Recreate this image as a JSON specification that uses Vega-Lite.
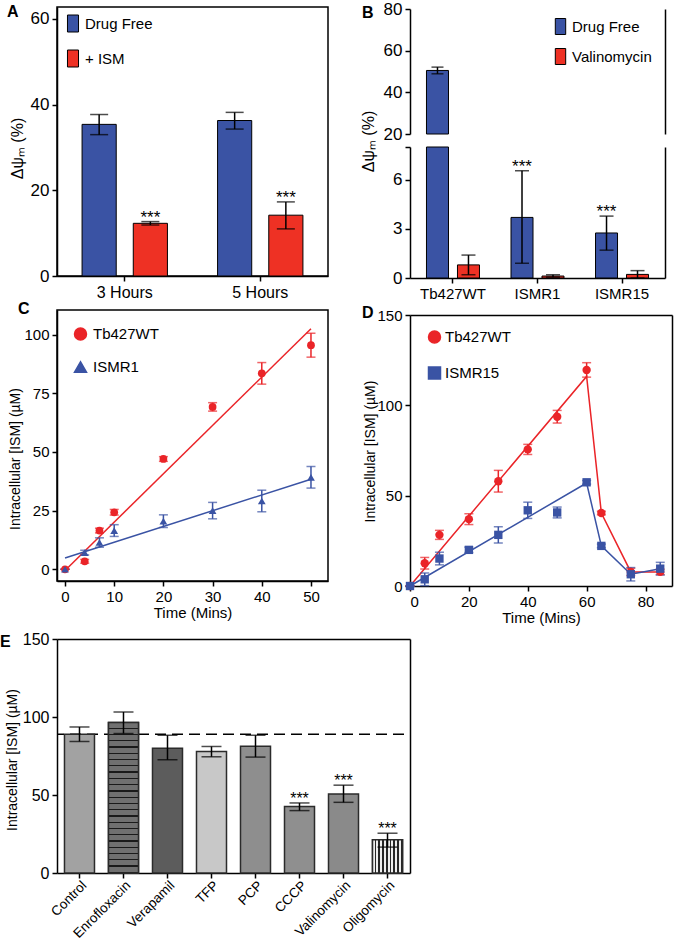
{
"$schema": "https://vega.github.io/schema/vega-lite/v6.json",
"background": "white",
"padding": {"left": 0, "top": 0, "right": 5, "bottom": 5},
"config": {
  "font": "Liberation Sans",
  "view": {"stroke": "black", "strokeWidth": 1.5},
  "axis": {"domainColor": "black", "domainWidth": 1.5, "tickColor": "black", "tickWidth": 1.5, "tickSize": 5, "labelColor": "black", "titleColor": "black", "labelFont": "Liberation Sans", "titleFont": "Liberation Sans", "grid": false, "labelFontSize": 15, "titleFontSize": 15, "titleFontWeight": "normal", "labelPadding": 3},
  "legend": {"labelFont": "Liberation Sans", "labelColor": "black", "padding": 0},
  "title": {"anchor": "start", "frame": "group", "offset": 0, "baseline": "alphabetic", "fontSize": 16, "fontWeight": "bold", "font": "Liberation Sans", "color": "black"}
},
"columns": 2,
"spacing": {"row": 32, "column": -4},
"bounds": "flush",
"align": "each",
"resolve": {"scale": {"color": "independent", "fill": "independent", "shape": "independent", "xOffset": "independent"}, "legend": {"color": "independent", "fill": "independent", "shape": "independent"}},
"concat": [
{
  "width": 271, "height": 269,
  "title": {"text": "A", "dx": -50, "dy": 17},
  "data": {"values": [
    {"time": "3 Hours", "treatment": "Drug Free", "value": 35.4, "lo": 33.0, "hi": 37.7},
    {"time": "3 Hours", "treatment": "+ ISM", "value": 12.3, "lo": 11.9, "hi": 12.7, "sig": "***"},
    {"time": "5 Hours", "treatment": "Drug Free", "value": 36.3, "lo": 34.3, "hi": 38.2},
    {"time": "5 Hours", "treatment": "+ ISM", "value": 14.2, "lo": 11.0, "hi": 17.3, "sig": "***"}
  ]},
  "encoding": {
    "x": {"field": "time", "type": "nominal", "sort": ["3 Hours", "5 Hours"], "title": null, "scale": {"paddingInner": 0.37, "paddingOuter": 0.185}, "axis": {"labelAngle": 0, "labelFontSize": 16}},
    "xOffset": {"field": "treatment", "type": "nominal", "sort": ["Drug Free", "+ ISM"], "scale": {"paddingInner": 0.333, "paddingOuter": 0}}
  },
  "layer": [
    {"mark": {"type": "bar", "stroke": "black", "strokeWidth": 1},
     "encoding": {
       "y": {"field": "value", "type": "quantitative", "title": "Δψₘ (%)", "scale": {"domain": [0, 62.8], "nice": false}, "axis": {"values": [0, 20, 40, 60], "labelFontSize": 17, "titleFontSize": 16, "titleX": -40, "titleY": 141, "titleAngle": -90, "titleAlign": "center", "titleBaseline": "middle"}},
       "color": {"field": "treatment", "type": "nominal", "scale": {"domain": ["Drug Free", "+ ISM"], "range": ["#3a53a4", "#ee3124"]},
         "legend": {"title": null, "orient": "none", "legendX": 7, "legendY": 7.5, "symbolType": "M-0.65,-1H0.65V1H-0.65Z", "symbolSize": 289, "symbolStrokeColor": "black", "symbolStrokeWidth": 1, "symbolOpacity": 1, "labelFontSize": 15, "labelOffset": 3, "rowPadding": 13}}
     }},
    {"mark": {"type": "rule", "color": "black", "strokeWidth": 1.5},
     "encoding": {"y": {"field": "lo", "type": "quantitative", "title": "Δψₘ (%)"}, "y2": {"field": "hi"}}},
    {"transform": [{"fold": ["lo", "hi"], "as": ["end", "bound"]}],
     "mark": {"type": "tick", "orient": "horizontal", "color": "black", "size": 18, "thickness": 1.5},
     "encoding": {"y": {"field": "bound", "type": "quantitative", "title": "Δψₘ (%)"}}},
    {"transform": [{"filter": "datum.sig"}],
     "mark": {"type": "text", "baseline": "alphabetic", "dy": 1, "fontSize": 17, "color": "black"},
     "encoding": {"y": {"field": "hi", "type": "quantitative", "title": "Δψₘ (%)"}, "text": {"field": "sig"}}}
  ]
},
{
  "width": 255, "height": 271,
  "view": {"stroke": null},
  "title": {"text": "B", "dx": -48, "dy": 24.5},
  "data": {"values": [
    {"strain": "Tb427WT", "treatment": "Drug Free", "value": 50.5, "lo": 48.9, "hi": 52.1},
    {"strain": "Tb427WT", "treatment": "Valinomycin", "value": 0.8, "lo": 0.2, "hi": 1.4},
    {"strain": "ISMR1", "treatment": "Drug Free", "value": 3.7, "lo": 0.9, "hi": 6.55, "sig": "***"},
    {"strain": "ISMR1", "treatment": "Valinomycin", "value": 0.12, "lo": 0.05, "hi": 0.2},
    {"strain": "ISMR15", "treatment": "Drug Free", "value": 2.75, "lo": 1.7, "hi": 3.78, "sig": "***"},
    {"strain": "ISMR15", "treatment": "Valinomycin", "value": 0.22, "lo": 0.0, "hi": 0.45}
  ]},
  "encoding": {
    "x": {"field": "strain", "type": "nominal", "sort": ["Tb427WT", "ISMR1", "ISMR15"], "title": null, "scale": {"paddingInner": 0.373, "paddingOuter": 0.195}, "axis": {"labelAngle": 0, "labelFontSize": 15}},
    "xOffset": {"field": "treatment", "type": "nominal", "sort": ["Drug Free", "Valinomycin"], "scale": {"paddingInner": 0.29, "paddingOuter": 0}},
    "color": {"field": "treatment", "type": "nominal", "scale": {"domain": ["Drug Free", "Valinomycin"], "range": ["#3a53a4", "#ee3124"]},
      "legend": {"title": null, "orient": "none", "legendX": 142, "legendY": 11, "symbolType": "M-0.65,-1H0.65V1H-0.65Z", "symbolSize": 256, "symbolStrokeColor": "black", "symbolStrokeWidth": 1, "symbolOpacity": 1, "labelFontSize": 15, "labelOffset": 3, "rowPadding": 9}}
  },
  "layer": [
    {"mark": {"type": "bar", "stroke": "black", "strokeWidth": 1},
     "encoding": {
       "y": {"field": "value", "type": "quantitative", "scale": {"domain": [0, 8], "range": [271, 140], "clamp": true, "nice": false}, "axis": {"orient": "left", "values": [0, 3, 6, 8], "labelExpr": "datum.value == 8 ? '' : datum.label", "labelFontSize": 17, "title": null}},
       "y2": {"datum": 0}
     }},
    {"transform": [{"filter": "datum.value > 20"}],
     "mark": {"type": "bar", "stroke": "black", "strokeWidth": 1},
     "encoding": {
       "y": {"field": "value", "type": "quantitative", "title": "Δψₘ (%)", "scale": {"domain": [20, 80], "range": [127, 2], "clamp": true, "nice": false, "zero": false}, "axis": {"orient": "left", "values": [20, 40, 60, 80], "labelFontSize": 17, "titleFontSize": 16, "titleX": -42, "titleY": 134, "titleAngle": -90, "titleAlign": "center", "titleBaseline": "middle"}},
       "y2": {"datum": 20}
     }},
    {"transform": [{"filter": "datum.value < 20"}],
     "mark": {"type": "rule", "strokeWidth": 1.5},
     "encoding": {"color": {"value": "black"}, "y": {"field": "lo", "type": "quantitative", "scale": {"domain": [0, 8], "range": [271, 140], "clamp": true, "nice": false}, "axis": null}, "y2": {"field": "hi"}}},
    {"transform": [{"filter": "datum.value < 20"}, {"fold": ["lo", "hi"], "as": ["end", "bound"]}],
     "mark": {"type": "tick", "orient": "horizontal", "size": 14, "thickness": 1.5},
     "encoding": {"color": {"value": "black"}, "y": {"field": "bound", "type": "quantitative", "scale": {"domain": [0, 8], "range": [271, 140], "clamp": true, "nice": false}, "axis": null}}},
    {"transform": [{"filter": "datum.value > 20"}],
     "mark": {"type": "rule", "strokeWidth": 1.5},
     "encoding": {"color": {"value": "black"}, "y": {"field": "lo", "type": "quantitative", "scale": {"domain": [20, 80], "range": [127, 2], "clamp": true, "nice": false, "zero": false}, "axis": {"orient": "right", "labels": false, "ticks": false, "title": null}}, "y2": {"field": "hi"}}},
    {"transform": [{"filter": "datum.value > 20"}, {"fold": ["lo", "hi"], "as": ["end", "bound"]}],
     "mark": {"type": "tick", "orient": "horizontal", "size": 12, "thickness": 1.5},
     "encoding": {"color": {"value": "black"}, "y": {"field": "bound", "type": "quantitative", "scale": {"domain": [20, 80], "range": [127, 2], "clamp": true, "nice": false, "zero": false}, "axis": null}}},
    {"transform": [{"filter": "datum.sig"}],
     "mark": {"type": "text", "baseline": "alphabetic", "dy": 1, "fontSize": 17},
     "encoding": {"color": {"value": "black"}, "y": {"field": "hi", "type": "quantitative", "scale": {"domain": [0, 8], "range": [271, 140], "clamp": true, "nice": false}, "axis": {"orient": "right", "labels": false, "ticks": false, "title": null}}, "text": {"field": "sig"}}}
  ],
  "resolve": {"scale": {"y": "independent"}, "axis": {"y": "independent"}}
},
{
  "width": 271, "height": 271,
  "title": {"text": "C", "dx": -39, "dy": 11},
  "encoding": {
    "color": {"field": "series", "type": "nominal", "scale": {"domain": ["Tb427WT", "ISMR1"], "range": ["#ea2428", "#3a53a4"]},
      "legend": {"title": null, "orient": "none", "legendX": 16, "legendY": 16.5, "labelFontSize": 15, "labelOffset": 5, "rowPadding": 15, "symbolSize": 144,
        "encode": {"symbols": {"update": {
          "shape": {"signal": "datum.value == 'Tb427WT' ? 'M-1,0H1M0.62,0A0.62,0.62,0,1,1,-0.62,0A0.62,0.62,0,1,1,0.62,0Z' : 'M-1,0H1M0,-0.7L0.68,0.5H-0.68Z'"},
          "fill": {"signal": "datum.value == 'Tb427WT' ? '#ea2428' : '#3a53a4'"},
          "stroke": {"signal": "datum.value == 'Tb427WT' ? '#ea2428' : '#3a53a4'"},
          "strokeWidth": {"value": 1.5}, "opacity": {"value": 1}}}}}}
  },
  "layer": [
    {"data": {"values": [
      {"series": "Tb427WT", "time": 0, "value": -0.5},
      {"series": "Tb427WT", "time": 50, "value": 102.5},
      {"series": "ISMR1", "time": 0, "value": 4.8},
      {"series": "ISMR1", "time": 50, "value": 38.4}
     ]},
     "mark": {"type": "line", "strokeWidth": 1.5},
     "encoding": {
       "x": {"field": "time", "type": "quantitative", "title": "Time (Mins)", "scale": {"domain": [-1.63, 53.46], "nice": false, "zero": false}, "axis": {"values": [0, 10, 20, 30, 40, 50], "titlePadding": 1}},
       "y": {"field": "value", "type": "quantitative", "title": "Intracellular [ISM] (µM)", "scale": {"domain": [-5, 110.5], "nice": false, "zero": false}, "axis": {"values": [0, 25, 50, 75, 100], "titleFontSize": 14, "titleX": -42, "titleY": 148.5, "titleAngle": -90, "titleAlign": "center", "titleBaseline": "middle"}}
     }},
    {"data": {"name": "ptsC"},
     "mark": {"type": "rule", "strokeWidth": 1.5},
     "encoding": {"x": {"field": "time", "type": "quantitative", "title": "Time (Mins)"}, "y": {"field": "lo", "type": "quantitative", "title": "Intracellular [ISM] (µM)"}, "y2": {"field": "hi"}}},
    {"data": {"name": "ptsC"}, "transform": [{"fold": ["lo", "hi"], "as": ["end", "bound"]}],
     "mark": {"type": "tick", "orient": "horizontal", "size": 9, "thickness": 1.5},
     "encoding": {"x": {"field": "time", "type": "quantitative", "title": "Time (Mins)"}, "y": {"field": "bound", "type": "quantitative", "title": "Intracellular [ISM] (µM)"}}},
    {"data": {"name": "ptsC"},
     "mark": {"type": "point", "filled": true, "size": 60, "opacity": 1},
     "encoding": {"x": {"field": "time", "type": "quantitative", "title": "Time (Mins)"}, "y": {"field": "value", "type": "quantitative", "title": "Intracellular [ISM] (µM)"},
       "shape": {"field": "series", "type": "nominal", "scale": {"domain": ["Tb427WT", "ISMR1"], "range": ["circle", "triangle-up"]}, "legend": null}}}
  ]
},
{
  "width": 262, "height": 276,
  "view": {"stroke": null},
  "title": {"text": "D", "dx": -48, "dy": 17},
  "encoding": {
    "color": {"field": "series", "type": "nominal", "scale": {"domain": ["Tb427WT", "ISMR15"], "range": ["#ea2428", "#3a53a4"]},
      "legend": {"title": null, "orient": "none", "legendX": 17, "legendY": 19.5, "labelFontSize": 15, "labelOffset": 3, "rowPadding": 17, "symbolSize": 144,
        "encode": {"symbols": {"update": {
          "shape": {"signal": "datum.value == 'Tb427WT' ? 'M-1,0H1M0.62,0A0.62,0.62,0,1,1,-0.62,0A0.62,0.62,0,1,1,0.62,0Z' : 'M-1,0H1M-0.6,-0.6H0.6V0.6H-0.6Z'"},
          "fill": {"signal": "datum.value == 'Tb427WT' ? '#ea2428' : '#3a53a4'"},
          "stroke": {"signal": "datum.value == 'Tb427WT' ? '#ea2428' : '#3a53a4'"},
          "strokeWidth": {"value": 1.5}, "opacity": {"value": 1}}}}}}
  },
  "layer": [
    {"data": {"values": [
      {"series": "Tb427WT", "time": 0, "value": 0},
      {"series": "Tb427WT", "time": 60, "value": 116},
      {"series": "Tb427WT", "time": 65, "value": 40.4},
      {"series": "Tb427WT", "time": 75, "value": 7.8},
      {"series": "Tb427WT", "time": 85, "value": 7.8},
      {"series": "ISMR15", "time": 0, "value": 0},
      {"series": "ISMR15", "time": 60, "value": 57},
      {"series": "ISMR15", "time": 65, "value": 22.2},
      {"series": "ISMR15", "time": 75, "value": 6.5},
      {"series": "ISMR15", "time": 85, "value": 9.6}
     ]},
     "mark": {"type": "line", "strokeWidth": 1.5},
     "encoding": {
       "x": {"field": "time", "type": "quantitative", "scale": {"domain": [0, 89], "nice": false}, "axis": {"values": [0, 20, 40, 60, 80], "title": "Time (Mins)", "titlePadding": 1}},
       "y": {"field": "value", "type": "quantitative", "scale": {"domain": [0, 150], "range": [276, 5], "nice": false}, "axis": {"values": [0, 50, 100, 150], "title": "Intracellular [ISM] (µM)", "titleFontSize": 14, "titleX": -40, "titleY": 141, "titleAngle": -90, "titleAlign": "center", "titleBaseline": "middle"}}
     }},
    {"data": {"name": "ptsD"},
     "mark": {"type": "rule", "strokeWidth": 1.5},
     "encoding": {"x": {"field": "time", "type": "quantitative", "axis": null}, "y": {"field": "lo", "type": "quantitative", "axis": null}, "y2": {"field": "hi"}}},
    {"data": {"name": "ptsD"}, "transform": [{"fold": ["lo", "hi"], "as": ["end", "bound"]}],
     "mark": {"type": "tick", "orient": "horizontal", "size": 9, "thickness": 1.5},
     "encoding": {"x": {"field": "time", "type": "quantitative", "axis": null}, "y": {"field": "bound", "type": "quantitative", "axis": null}}},
    {"data": {"name": "ptsD"},
     "mark": {"type": "point", "filled": true, "size": 70, "opacity": 1},
     "encoding": {
       "x": {"field": "time", "type": "quantitative", "axis": {"orient": "top", "offset": -5, "labels": false, "ticks": false, "title": null}},
       "y": {"field": "value", "type": "quantitative", "axis": {"orient": "right", "labels": false, "ticks": false, "title": null}},
       "shape": {"field": "series", "type": "nominal", "scale": {"domain": ["Tb427WT", "ISMR15"], "range": ["circle", "square"]}, "legend": null}}}
  ],
  "resolve": {"axis": {"x": "independent", "y": "independent"}}
},
{
  "width": 353, "height": 255,
  "view": {"stroke": null},
  "title": {"text": "E", "dx": -57, "dy": 36},
  "data": {"values": [
    {"drug": "Control", "value": 89.0, "lo": 84.3, "hi": 93.6},
    {"drug": "Enrofloxacin", "value": 96.4, "lo": 89.4, "hi": 103.2},
    {"drug": "Verapamil", "value": 80.0, "lo": 72.6, "hi": 88.3},
    {"drug": "TFP", "value": 77.9, "lo": 74.5, "hi": 81.1},
    {"drug": "PCP", "value": 81.3, "lo": 74.3, "hi": 88.3},
    {"drug": "CCCP", "value": 42.6, "lo": 40.0, "hi": 44.9, "sig": "***"},
    {"drug": "Valinomycin", "value": 50.6, "lo": 45.3, "hi": 56.3, "sig": "***"},
    {"drug": "Oligomycin", "value": 21.3, "lo": 16.6, "hi": 25.5, "sig": "***"}
  ]},
  "layer": [
    {"data": {"values": [{"control_mean": 89}]},
     "mark": {"type": "rule", "strokeDash": [11, 6], "strokeDashOffset": 11, "strokeWidth": 1.5, "color": "black"},
     "encoding": {"y": {"field": "control_mean", "type": "quantitative", "scale": {"domain": [0, 150], "range": [255, 21], "nice": false}, "axis": null}}},
    {"mark": {"type": "bar", "stroke": "#2b2b2b", "strokeWidth": 1.5},
     "encoding": {
       "x": {"field": "drug", "type": "nominal", "sort": ["Control", "Enrofloxacin", "Verapamil", "TFP", "PCP", "CCCP", "Valinomycin", "Oligomycin"], "scale": {"paddingInner": 0.318, "paddingOuter": 0.17}, "axis": {"title": null, "labelAngle": -45, "labelAlign": "right", "labelBaseline": "top", "labelFontSize": 13.5, "labelPadding": 0}},
       "y": {"field": "value", "type": "quantitative", "axis": {"values": [0, 50, 100, 150], "labelFontSize": 16, "title": "Intracellular [ISM] (µM)", "titleFontSize": 14, "titleX": -45, "titleY": 141.5, "titleAngle": -90, "titleAlign": "center", "titleBaseline": "middle"}},
       "fill": {"field": "drug", "type": "nominal", "scale": {"domain": ["Control", "Enrofloxacin", "Verapamil", "TFP", "PCP", "CCCP", "Valinomycin", "Oligomycin"], "range": ["#a2a2a2", "#6e6e6e", "#5c5c5c", "#c8c8c8", "#8e8e8e", "#8f8f8f", "#8a8a8a", "#b0b0b0"]}, "legend": null}
     }},
    {"transform": [{"filter": "datum.drug == 'Enrofloxacin'"}],
     "mark": {"type": "bar", "stroke": "#2b2b2b", "strokeWidth": 1.5,
       "fill": {"gradient": "linear", "x1": 0, "y1": 0, "x2": 0, "y2": 1, "stops": [
         {"offset": 0, "color": "#707070"}, {"offset": 0.0333, "color": "#707070"}, {"offset": 0.0333, "color": "#1a1a1a"}, {"offset": 0.0417, "color": "#1a1a1a"},
         {"offset": 0.0417, "color": "#707070"}, {"offset": 0.075, "color": "#707070"}, {"offset": 0.075, "color": "#1a1a1a"}, {"offset": 0.0833, "color": "#1a1a1a"},
         {"offset": 0.0833, "color": "#707070"}, {"offset": 0.1167, "color": "#707070"}, {"offset": 0.1167, "color": "#1a1a1a"}, {"offset": 0.125, "color": "#1a1a1a"},
         {"offset": 0.125, "color": "#707070"}, {"offset": 0.1583, "color": "#707070"}, {"offset": 0.1583, "color": "#1a1a1a"}, {"offset": 0.1667, "color": "#1a1a1a"},
         {"offset": 0.1667, "color": "#707070"}, {"offset": 0.2, "color": "#707070"}, {"offset": 0.2, "color": "#1a1a1a"}, {"offset": 0.2083, "color": "#1a1a1a"},
         {"offset": 0.2083, "color": "#707070"}, {"offset": 0.2417, "color": "#707070"}, {"offset": 0.2417, "color": "#1a1a1a"}, {"offset": 0.25, "color": "#1a1a1a"},
         {"offset": 0.25, "color": "#707070"}, {"offset": 0.2833, "color": "#707070"}, {"offset": 0.2833, "color": "#1a1a1a"}, {"offset": 0.2917, "color": "#1a1a1a"},
         {"offset": 0.2917, "color": "#707070"}, {"offset": 0.325, "color": "#707070"}, {"offset": 0.325, "color": "#1a1a1a"}, {"offset": 0.3333, "color": "#1a1a1a"},
         {"offset": 0.3333, "color": "#707070"}, {"offset": 0.3667, "color": "#707070"}, {"offset": 0.3667, "color": "#1a1a1a"}, {"offset": 0.375, "color": "#1a1a1a"},
         {"offset": 0.375, "color": "#707070"}, {"offset": 0.4083, "color": "#707070"}, {"offset": 0.4083, "color": "#1a1a1a"}, {"offset": 0.4167, "color": "#1a1a1a"},
         {"offset": 0.4167, "color": "#707070"}, {"offset": 0.45, "color": "#707070"}, {"offset": 0.45, "color": "#1a1a1a"}, {"offset": 0.4583, "color": "#1a1a1a"},
         {"offset": 0.4583, "color": "#707070"}, {"offset": 0.4917, "color": "#707070"}, {"offset": 0.4917, "color": "#1a1a1a"}, {"offset": 0.5, "color": "#1a1a1a"},
         {"offset": 0.5, "color": "#707070"}, {"offset": 0.5333, "color": "#707070"}, {"offset": 0.5333, "color": "#1a1a1a"}, {"offset": 0.5417, "color": "#1a1a1a"},
         {"offset": 0.5417, "color": "#707070"}, {"offset": 0.575, "color": "#707070"}, {"offset": 0.575, "color": "#1a1a1a"}, {"offset": 0.5833, "color": "#1a1a1a"},
         {"offset": 0.5833, "color": "#707070"}, {"offset": 0.6167, "color": "#707070"}, {"offset": 0.6167, "color": "#1a1a1a"}, {"offset": 0.625, "color": "#1a1a1a"},
         {"offset": 0.625, "color": "#707070"}, {"offset": 0.6583, "color": "#707070"}, {"offset": 0.6583, "color": "#1a1a1a"}, {"offset": 0.6667, "color": "#1a1a1a"},
         {"offset": 0.6667, "color": "#707070"}, {"offset": 0.7, "color": "#707070"}, {"offset": 0.7, "color": "#1a1a1a"}, {"offset": 0.7083, "color": "#1a1a1a"},
         {"offset": 0.7083, "color": "#707070"}, {"offset": 0.7417, "color": "#707070"}, {"offset": 0.7417, "color": "#1a1a1a"}, {"offset": 0.75, "color": "#1a1a1a"},
         {"offset": 0.75, "color": "#707070"}, {"offset": 0.7833, "color": "#707070"}, {"offset": 0.7833, "color": "#1a1a1a"}, {"offset": 0.7917, "color": "#1a1a1a"},
         {"offset": 0.7917, "color": "#707070"}, {"offset": 0.825, "color": "#707070"}, {"offset": 0.825, "color": "#1a1a1a"}, {"offset": 0.8333, "color": "#1a1a1a"},
         {"offset": 0.8333, "color": "#707070"}, {"offset": 0.8667, "color": "#707070"}, {"offset": 0.8667, "color": "#1a1a1a"}, {"offset": 0.875, "color": "#1a1a1a"},
         {"offset": 0.875, "color": "#707070"}, {"offset": 0.9083, "color": "#707070"}, {"offset": 0.9083, "color": "#1a1a1a"}, {"offset": 0.9167, "color": "#1a1a1a"},
         {"offset": 0.9167, "color": "#707070"}, {"offset": 0.95, "color": "#707070"}, {"offset": 0.95, "color": "#1a1a1a"}, {"offset": 0.9583, "color": "#1a1a1a"},
         {"offset": 0.9583, "color": "#707070"}, {"offset": 0.9917, "color": "#707070"}, {"offset": 0.9917, "color": "#1a1a1a"}, {"offset": 1, "color": "#1a1a1a"}
       ]}},
     "encoding": {
       "x": {"field": "drug", "type": "nominal", "sort": ["Control", "Enrofloxacin", "Verapamil", "TFP", "PCP", "CCCP", "Valinomycin", "Oligomycin"], "axis": null},
       "y": {"field": "value", "type": "quantitative", "axis": null}
     }},
    {"transform": [{"filter": "datum.drug == 'Oligomycin'"}],
     "mark": {"type": "bar", "stroke": "#2b2b2b", "strokeWidth": 1.5,
       "fill": {"gradient": "linear", "x1": 0, "y1": 0, "x2": 1, "y2": 0, "stops": [
         {"offset": 0, "color": "#eeeeee"}, {"offset": 0.069, "color": "#eeeeee"}, {"offset": 0.069, "color": "#262626"}, {"offset": 0.125, "color": "#262626"},
         {"offset": 0.125, "color": "#eeeeee"}, {"offset": 0.194, "color": "#eeeeee"}, {"offset": 0.194, "color": "#262626"}, {"offset": 0.25, "color": "#262626"},
         {"offset": 0.25, "color": "#eeeeee"}, {"offset": 0.319, "color": "#eeeeee"}, {"offset": 0.319, "color": "#262626"}, {"offset": 0.375, "color": "#262626"},
         {"offset": 0.375, "color": "#eeeeee"}, {"offset": 0.444, "color": "#eeeeee"}, {"offset": 0.444, "color": "#262626"}, {"offset": 0.5, "color": "#262626"},
         {"offset": 0.5, "color": "#eeeeee"}, {"offset": 0.569, "color": "#eeeeee"}, {"offset": 0.569, "color": "#262626"}, {"offset": 0.625, "color": "#262626"},
         {"offset": 0.625, "color": "#eeeeee"}, {"offset": 0.694, "color": "#eeeeee"}, {"offset": 0.694, "color": "#262626"}, {"offset": 0.75, "color": "#262626"},
         {"offset": 0.75, "color": "#eeeeee"}, {"offset": 0.819, "color": "#eeeeee"}, {"offset": 0.819, "color": "#262626"}, {"offset": 0.875, "color": "#262626"},
         {"offset": 0.875, "color": "#eeeeee"}, {"offset": 0.944, "color": "#eeeeee"}, {"offset": 0.944, "color": "#262626"}, {"offset": 1, "color": "#262626"}
       ]}},
     "encoding": {
       "x": {"field": "drug", "type": "nominal", "sort": ["Control", "Enrofloxacin", "Verapamil", "TFP", "PCP", "CCCP", "Valinomycin", "Oligomycin"], "axis": null},
       "y": {"field": "value", "type": "quantitative", "axis": null}
     }},
    {"mark": {"type": "rule", "color": "black", "strokeWidth": 1.5},
     "encoding": {
       "x": {"field": "drug", "type": "nominal", "sort": ["Control", "Enrofloxacin", "Verapamil", "TFP", "PCP", "CCCP", "Valinomycin", "Oligomycin"], "axis": null},
       "y": {"field": "lo", "type": "quantitative", "axis": null}, "y2": {"field": "hi"}
     }},
    {"transform": [{"fold": ["lo", "hi"], "as": ["end", "bound"]}],
     "mark": {"type": "tick", "orient": "horizontal", "color": "black", "size": 20, "thickness": 1.5},
     "encoding": {
       "x": {"field": "drug", "type": "nominal", "sort": ["Control", "Enrofloxacin", "Verapamil", "TFP", "PCP", "CCCP", "Valinomycin", "Oligomycin"], "axis": {"orient": "top", "offset": -21, "labels": false, "ticks": false, "title": null}},
       "y": {"field": "bound", "type": "quantitative", "axis": {"orient": "right", "labels": false, "ticks": false, "title": null}}
     }},
    {"transform": [{"filter": "datum.sig"}],
     "mark": {"type": "text", "baseline": "alphabetic", "dy": 1, "fontSize": 16, "color": "black"},
     "encoding": {
       "x": {"field": "drug", "type": "nominal", "sort": ["Control", "Enrofloxacin", "Verapamil", "TFP", "PCP", "CCCP", "Valinomycin", "Oligomycin"], "axis": null},
       "y": {"field": "hi", "type": "quantitative", "axis": null},
       "text": {"field": "sig"}
     }}
  ],
  "resolve": {"axis": {"x": "independent", "y": "independent"}}
}
],
"datasets": {
  "ptsC": [
    {"series": "Tb427WT", "time": 0, "value": 0, "lo": 0, "hi": 0},
    {"series": "Tb427WT", "time": 4, "value": 3.4, "lo": 2.6, "hi": 4.2},
    {"series": "Tb427WT", "time": 7, "value": 16.5, "lo": 15.5, "hi": 17.5},
    {"series": "Tb427WT", "time": 10, "value": 24.3, "lo": 23.1, "hi": 25.5},
    {"series": "Tb427WT", "time": 20, "value": 47.0, "lo": 46.0, "hi": 48.0},
    {"series": "Tb427WT", "time": 30, "value": 69.2, "lo": 67.4, "hi": 71.0},
    {"series": "Tb427WT", "time": 40, "value": 83.5, "lo": 78.9, "hi": 88.1},
    {"series": "Tb427WT", "time": 50, "value": 95.5, "lo": 90.4, "hi": 100.6},
    {"series": "ISMR1", "time": 0, "value": 0, "lo": 0, "hi": 0},
    {"series": "ISMR1", "time": 4, "value": 7.1, "lo": 6.1, "hi": 8.1},
    {"series": "ISMR1", "time": 7, "value": 11.4, "lo": 9.4, "hi": 13.4},
    {"series": "ISMR1", "time": 10, "value": 16.5, "lo": 14.0, "hi": 19.0},
    {"series": "ISMR1", "time": 20, "value": 20.5, "lo": 17.8, "hi": 23.2},
    {"series": "ISMR1", "time": 30, "value": 25.0, "lo": 21.5, "hi": 28.5},
    {"series": "ISMR1", "time": 40, "value": 29.1, "lo": 24.5, "hi": 33.7},
    {"series": "ISMR1", "time": 50, "value": 39.2, "lo": 34.6, "hi": 43.8}
  ],
  "ptsD": [
    {"series": "Tb427WT", "time": 0, "value": 0, "lo": 0, "hi": 0},
    {"series": "Tb427WT", "time": 5, "value": 12.6, "lo": 9.4, "hi": 15.8},
    {"series": "Tb427WT", "time": 10, "value": 28.3, "lo": 25.8, "hi": 30.8},
    {"series": "Tb427WT", "time": 20, "value": 37.0, "lo": 34.0, "hi": 40.0},
    {"series": "Tb427WT", "time": 30, "value": 58.0, "lo": 52.0, "hi": 64.0},
    {"series": "Tb427WT", "time": 40, "value": 75.6, "lo": 72.8, "hi": 78.4},
    {"series": "Tb427WT", "time": 50, "value": 93.7, "lo": 90.2, "hi": 97.2},
    {"series": "Tb427WT", "time": 60, "value": 119.6, "lo": 115.6, "hi": 123.6},
    {"series": "Tb427WT", "time": 65, "value": 40.4, "lo": 39.4, "hi": 41.4},
    {"series": "Tb427WT", "time": 75, "value": 7.8, "lo": 5.8, "hi": 9.8},
    {"series": "Tb427WT", "time": 85, "value": 7.8, "lo": 6.3, "hi": 9.3},
    {"series": "ISMR15", "time": 0, "value": 0, "lo": 0, "hi": 0},
    {"series": "ISMR15", "time": 5, "value": 3.7, "lo": 0.2, "hi": 7.2},
    {"series": "ISMR15", "time": 10, "value": 15.2, "lo": 11.7, "hi": 18.7},
    {"series": "ISMR15", "time": 20, "value": 20.0, "lo": 18.5, "hi": 21.5},
    {"series": "ISMR15", "time": 30, "value": 28.3, "lo": 23.8, "hi": 32.8},
    {"series": "ISMR15", "time": 40, "value": 41.9, "lo": 37.4, "hi": 46.4},
    {"series": "ISMR15", "time": 50, "value": 40.7, "lo": 37.7, "hi": 43.7},
    {"series": "ISMR15", "time": 60, "value": 57.4, "lo": 56.4, "hi": 58.4},
    {"series": "ISMR15", "time": 65, "value": 22.2, "lo": 21.2, "hi": 23.2},
    {"series": "ISMR15", "time": 75, "value": 6.5, "lo": 2.8, "hi": 10.2},
    {"series": "ISMR15", "time": 85, "value": 9.6, "lo": 6.1, "hi": 13.1}
  ]
}
}
